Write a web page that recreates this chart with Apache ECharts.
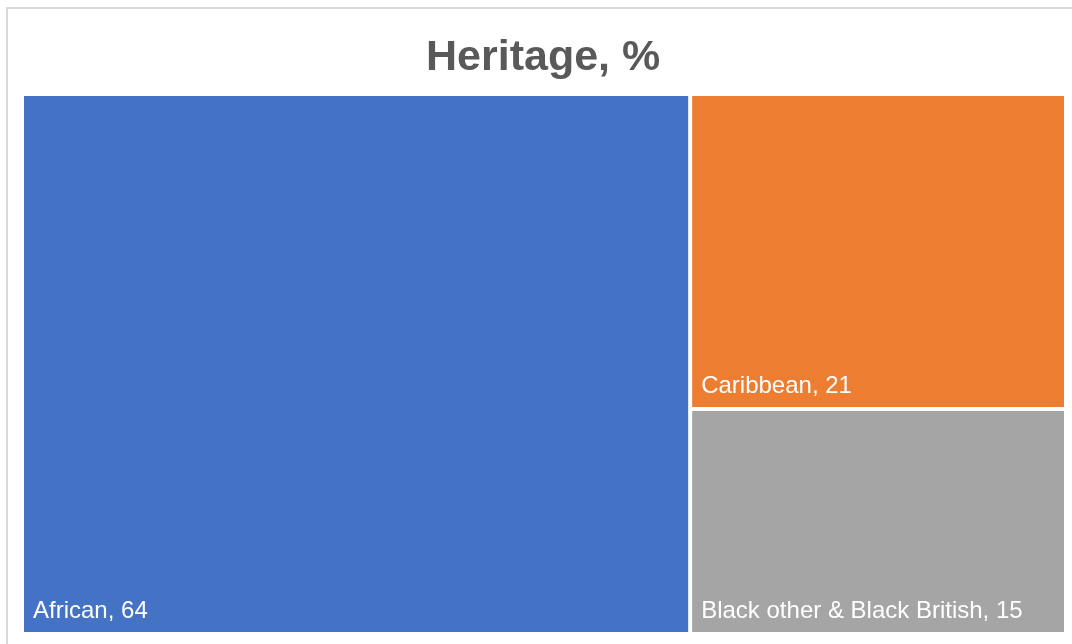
<!DOCTYPE html>
<html>
<head>
<meta charset="utf-8">
<title>Heritage, %</title>
<script src="https://cdn.jsdelivr.net/npm/echarts@6/dist/echarts.min.js"></script>
<style>
  html, body { margin: 0; padding: 0; background: #ffffff; }
  #chart { width: 1072px; height: 644px; }
</style>
</head>
<body>
<div id="chart"></div>
<script>
// Heritage breakdown, percent
const categories = ['African', 'Caribbean', 'Black other & Black British'];
const shares = [64, 21, 15];
const colors = ['#4472C4', '#ED7D31', '#A5A5A5'];

const FONT = '"Liberation Sans", Arial, Helvetica, sans-serif';

const chart = echarts.init(document.getElementById('chart'), null, { renderer: 'canvas' });

const nodes = categories.map((name, i) => ({
  name: name,
  value: shares[i],
  itemStyle: { color: colors[i] }
}));

chart.setOption({
  animation: false,
  title: {
    text: 'Heritage, %',
    left: 426,
    top: 37,
    padding: 0,
    textStyle: {
      fontFamily: FONT,
      fontSize: 43,
      fontWeight: 'bold',
      color: '#595959'
    }
  },
  graphic: [{
    type: 'rect',
    silent: true,
    shape: { x: 7, y: 8, width: 1100, height: 700 },
    style: { fill: 'none', stroke: '#d9d9d9', lineWidth: 2 }
  }],
  series: [{
    type: 'treemap',
    left: 24,
    top: 96,
    width: 1040,
    height: 536,
    roam: false,
    nodeClick: false,
    breadcrumb: { show: false },
    sort: 'desc',
    itemStyle: { borderWidth: 0, gapWidth: 4, borderColor: '#ffffff' },
    levels: [
      { itemStyle: { borderWidth: 0, gapWidth: 4, borderColor: '#ffffff' } }
    ],
    label: {
      show: true,
      position: 'insideBottomLeft',
      distance: 9,
      padding: 0,
      formatter: '{b}, {c}',
      color: '#ffffff',
      fontFamily: FONT,
      fontSize: 24
    },
    upperLabel: { show: false },
    emphasis: { disabled: true },
    data: nodes
  }]
});
</script>
</body>
</html>
